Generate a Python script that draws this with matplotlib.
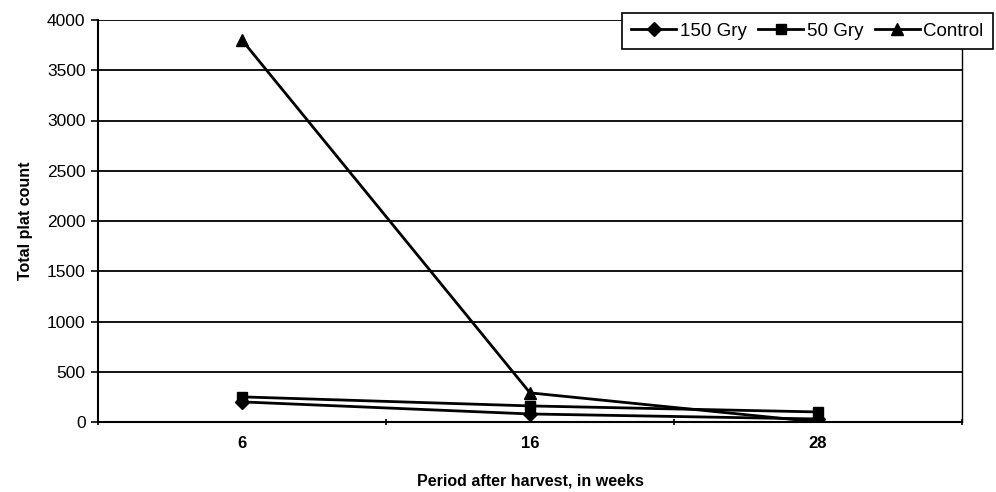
import matplotlib
matplotlib.use("Agg")
import matplotlib.pyplot as plt
import numpy as np

plt.rcParams['font.family'] = ['Liberation Sans', 'DejaVu Sans']

categories = ["6", "16", "28"]
gry150 = [200, 80, 30]
gry50 = [250, 160, 100]
control = [3800, 290, 0]
yticks = [0, 500, 1000, 1500, 2000, 2500, 3000, 3500, 4000]

fig = plt.figure(figsize=(9.96, 4.92), dpi=100)
ax = fig.add_axes([98/996, 70/492, 864/996, 402/492])

x = np.arange(len(categories))
ax.plot(x, gry150, color='black', lw=2, marker='D', ms=7, label='150 Gry', zorder=5)
ax.plot(x, gry50, color='black', lw=2, marker='s', ms=7, label='50 Gry', zorder=5)
ax.plot(x, control, color='black', lw=2, marker='^', ms=8, label='Control', zorder=5)

ax.set_xlim(-0.5, len(categories) - 0.5)
ax.set_ylim(0, 4000)
ax.set_yticks(yticks)
ax.set_yticklabels([str(v) for v in yticks], fontsize=12.5)
ax.yaxis.grid(True, color='black', lw=1.3)
ax.set_axisbelow(True)

ax.set_xticks(x)
ax.set_xticklabels(categories, fontsize=12, fontweight='bold')
ax.tick_params(axis='x', which='major', length=0, pad=10)
ax.set_xticks(np.arange(-0.5, len(categories)), minor=True)
ax.tick_params(axis='x', which='minor', length=5, width=1.2, direction='inout')
ax.tick_params(axis='y', length=5, width=1.2, direction='out', pad=4)

for s in ['left', 'bottom', 'right', 'top']:
    ax.spines[s].set_linewidth(1.5)
ax.spines['top'].set_visible(False)
ax.spines['right'].set_linewidth(1.0)

ax.set_xlabel('Period after harvest, in weeks', fontsize=11.5, fontweight='bold', labelpad=16)
ax.set_ylabel('Total plat count', fontsize=11.5, fontweight='bold', labelpad=10)

leg = ax.legend(loc='upper right', bbox_to_anchor=(993/996, 479/492), bbox_transform=fig.transFigure,
                ncol=3, fontsize=13.5, frameon=True, fancybox=False, edgecolor='black',
                handlelength=2.4, handletextpad=0.2, columnspacing=0.6, borderpad=0.5,
                borderaxespad=0)
leg.get_frame().set_linewidth(1.2)
leg.get_frame().set_alpha(1)

fig.savefig('out.png', dpi=100)
